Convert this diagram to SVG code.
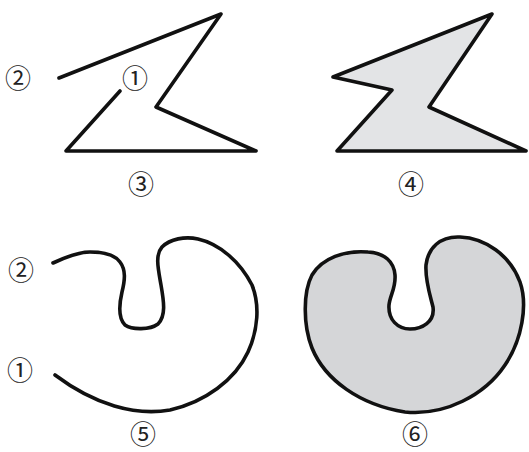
<svg xmlns="http://www.w3.org/2000/svg" width="529" height="452" viewBox="0 0 529 452">
<style>
.s{fill:none;stroke:#111;stroke-width:3.6;stroke-linejoin:round;stroke-linecap:round}
.l{font-family:"Noto Sans CJK KR","Noto Sans CJK SC",sans-serif;font-size:26px;fill:#222;text-anchor:middle;dominant-baseline:central}
</style>
<rect width="529" height="452" fill="#fff"/>
<g id="fig3">
<polyline class="s" points="59,78 221,14 156,107 256,151 66,151 120,91"/>
</g>
<g id="fig4">
<polygon class="s" style="fill:#e3e4e6" points="492,14 429,107 526,151 337,151 392,90 333,77"/>
</g>
<g id="fig5">
<path class="s" d="M 53,263 C 70,255 80,252 90,252 C 105,252 115,255 120,262 C 126,270 125,280 122,292 C 119,305 118,318 125,325 C 132,330 150,330 158,324 C 166,316 164,302 161,285 C 158,268 155,255 162,247 C 170,239 185,236 198,239 C 220,244 240,262 252,285 C 260,305 258,330 248,352 C 235,380 205,402 170,410 C 135,416 95,405 55,375"/>
</g>
<g id="fig6">
<path class="s" style="fill:#d5d6d8" d="M 395,275 C 394,262 385,253 368,252 C 345,250 322,258 312,275 C 303,292 303,325 312,348 C 325,380 360,405 405,412 C 445,416 485,395 505,365 C 522,340 528,305 520,282 C 510,255 485,238 460,237 C 440,236 428,248 426,265 C 425,280 430,295 433,307 C 435,322 422,329 410,329 C 398,329 388,320 389,305 C 390,295 396,288 395,275 Z"/>
</g>
<g id="labels">
<text class="l" x="18" y="76">②</text>
<text class="l" x="135" y="76">①</text>
<text class="l" x="141" y="182">③</text>
<text class="l" x="411" y="182">④</text>
<text class="l" x="21" y="268">②</text>
<text class="l" x="20" y="368">①</text>
<text class="l" x="143" y="432">⑤</text>
<text class="l" x="415" y="432">⑥</text>
</g>
</svg>
